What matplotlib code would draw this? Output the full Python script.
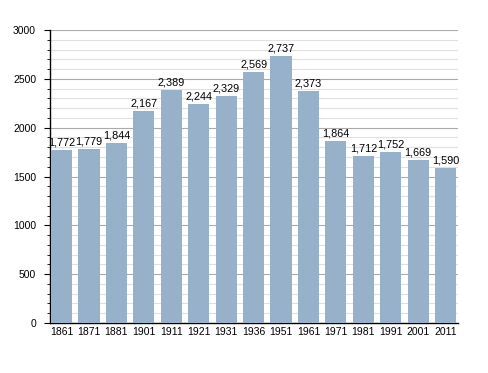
import matplotlib.pyplot as plt
from matplotlib.ticker import MultipleLocator

years = ['1861', '1871', '1881', '1901', '1911', '1921', '1931', '1936',
         '1951', '1961', '1971', '1981', '1991', '2001', '2011']
population = [1772, 1779, 1844, 2167, 2389, 2244, 2329, 2569,
              2737, 2373, 1864, 1712, 1752, 1669, 1590]

plt.rcParams['font.family'] = ['Liberation Sans', 'DejaVu Sans']
plt.rcParams['font.size'] = 7.5

fig = plt.figure(figsize=(4.88, 3.73), dpi=100)
ax = fig.add_axes([0.1025, 0.134, 0.836, 0.7856])

x = range(len(years))
bars = ax.bar(x, population, width=0.77, color='#97b1ca', zorder=3)
for xi, v in zip(x, population):
    ax.text(xi, v + 25, f'{v:,}', ha='center', va='bottom', fontsize=7.8, zorder=4)

ax.set_xlim(-0.42, len(years) - 0.55)
ax.set_ylim(0, 3000)
ax.set_xticks(list(x))
ax.set_xticklabels(years)
ax.yaxis.set_major_locator(MultipleLocator(500))
ax.yaxis.set_minor_locator(MultipleLocator(100))
ax.grid(which='major', axis='y', color='#aaaaaa', linewidth=0.8, zorder=0)
ax.grid(which='minor', axis='y', color='#e0e0e0', linewidth=0.8, zorder=0)
for s in ['top', 'right']:
    ax.spines[s].set_visible(False)
ax.spines['left'].set_linewidth(1)
ax.spines['bottom'].set_linewidth(1)
ax.tick_params(axis='x', length=0, pad=3)
ax.tick_params(axis='y', which='major', length=4, pad=6)
ax.tick_params(axis='y', which='minor', length=2)

fig.savefig('out.png', dpi=100)
